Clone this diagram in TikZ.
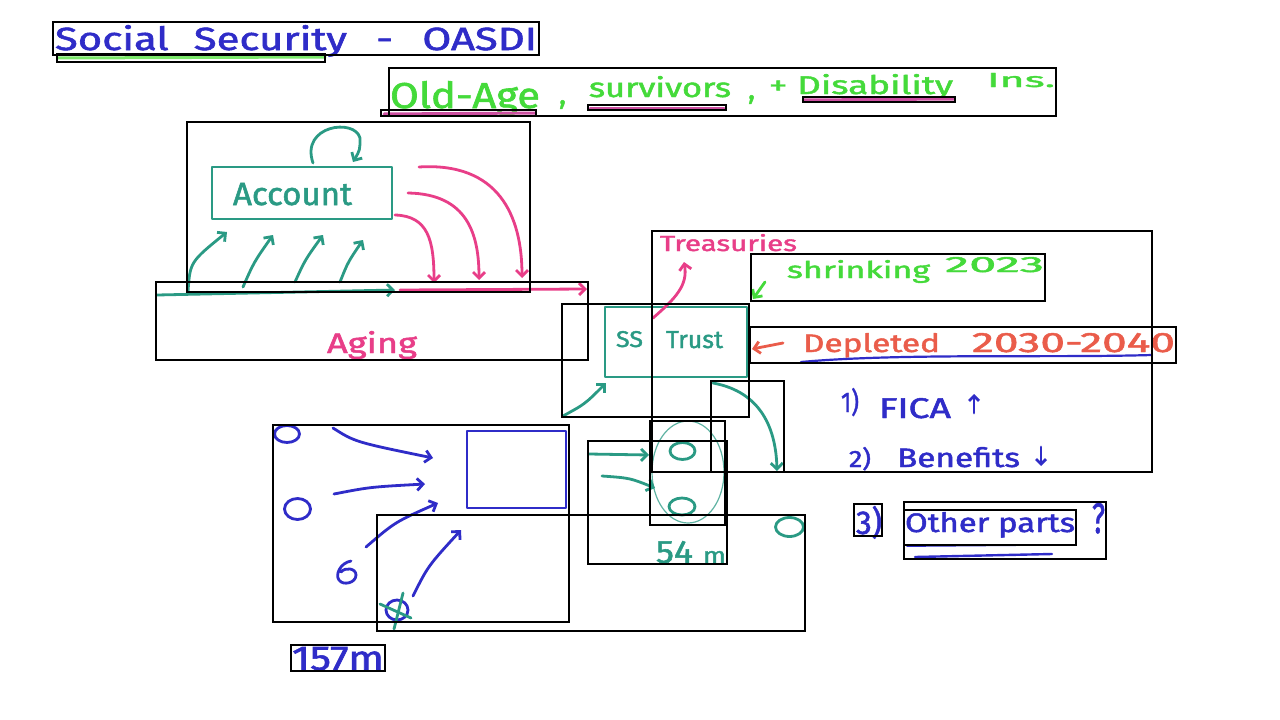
\documentclass[tikz,border=0pt]{standalone}
\usepackage{graphicx}
\usepackage{fontspec}
\setmainfont{Fira Sans}[FakeBold=1.6]
\usetikzlibrary{arrows.meta,shapes.geometric,calc}
\definecolor{hblue}{HTML}{2F2CC8}
\definecolor{hteal}{HTML}{2A9A84}
\definecolor{hgreen}{HTML}{44DA3A}
\definecolor{hpink}{HTML}{E83E88}
\definecolor{hred}{HTML}{EA5C4A}
\definecolor{hmauve}{HTML}{CC4FA0}
\definecolor{hlgreen}{HTML}{7BE86A}
\newcommand{\fitt}[3]{\resizebox{#1pt}{#2pt}{#3}}
\tikzset{
  frame/.style={draw=black,line width=1.1pt},
  pen/.style={line width=2.8pt,line cap=round,line join=round},
  tip/.style={-{Straight Barb[length=6pt,width=12pt]}},
  smalltip/.style={-{Straight Barb[length=5pt,width=10pt]}},
  lbl/.style={inner sep=0pt,outer sep=0pt,anchor=base west},
  person/.style={shape=ellipse,draw,pen,inner sep=0pt},
  boxnode/.style={draw,pen,inner sep=0pt},
}
\begin{document}
\begin{tikzpicture}[x=1pt,y=-1pt]
\fill[white] (0,0) rectangle (1280,720);
\useasboundingbox (0,0) rectangle (1280,720);

% ---------- titles ----------
\node[lbl,text=hblue] (title) at (55,50) {\fitt{482}{25}{Social\hspace{0.6em}Security\hspace{0.7em}-\hspace{0.7em}OASDI}};
\draw[hlgreen,line width=3pt,line cap=round] (58,58) -- (325,57);

\node[lbl,text=hgreen] (oldage) at (390,108) {\fitt{150}{27}{Old-Age}};
\node[lbl,text=hgreen,font=\fontsize{30}{30}\selectfont] (c1) at (559,104) {,};
\node[lbl,text=hgreen] (surv) at (589,97) {\fitt{142}{21}{survivors}};
\node[lbl,text=hgreen,font=\fontsize{30}{30}\selectfont] (c2) at (748,99) {,};
\node[lbl,text=hgreen] (disab) at (769,94) {\fitt{184}{20}{+ Disability}};
\node[lbl,text=hgreen] (ins) at (987,87) {\fitt{68}{14}{Ins.}};
\draw[hmauve,line width=3pt,line cap=round] (384,114) -- (535,113);
\draw[hmauve,line width=3pt,line cap=round] (590,108) -- (724,108);
\draw[hmauve,line width=3pt,line cap=round] (804,100) -- (954,99);

% ---------- account / aging ----------
\node[boxnode,draw=hteal,minimum width=180pt,minimum height=52pt] (acct) at (302,193) {};
\node[lbl,text=hteal] (acctlbl) at (233,205) {\fitt{119}{22}{Account}};
\draw[hteal,pen,tip] (313,163) .. controls (300,125) and (355,118) .. (360,138) .. controls (360,150) .. (353,162);

\coordinate (agstart) at (157,295);
\coordinate (agmid) at (395,290);
\coordinate (agend) at (587,289);
\draw[hteal,pen,tip] (agstart) -- (agmid);
\draw[hpink,pen,tip] ($(agmid)+(5,0)$) -- (agend);

\coordinate (u1s) at (188,292); \coordinate (u1e) at (227,232);
\coordinate (u2s) at (243,287); \coordinate (u2e) at (273,235);
\coordinate (u3s) at (295,282); \coordinate (u3e) at (323,235);
\coordinate (u4s) at (340,282); \coordinate (u4e) at (363,240);
\draw[hteal,pen,tip] (u1s) .. controls (190,262) .. (u1e);
\draw[hteal,pen,tip] (u2s) .. controls (254,262) .. (u2e);
\draw[hteal,pen,tip] (u3s) .. controls (305,260) .. (u3e);
\draw[hteal,pen,tip] (u4s) .. controls (348,262) .. (u4e);

\coordinate (p1e) at (434,283);
\coordinate (p2e) at (479,280);
\coordinate (p3e) at (522,278);
\draw[hpink,pen,tip] (395,215) .. controls (428,216) and (434,240) .. (p1e);
\draw[hpink,pen,tip] (408,193) .. controls (468,194) and (479,235) .. (p2e);
\draw[hpink,pen,tip] (419,167) .. controls (498,162) and (522,215) .. (p3e);

\node[lbl,text=hpink] (aging) at (327,353) {\fitt{90}{22}{Aging}};

% ---------- trust ----------
\node[boxnode,draw=hteal,minimum width=142pt,minimum height=70pt] (trust) at (676,342) {};
\node[lbl,text=hteal] (ss) at (616,347) {\fitt{27}{16}{SS}};
\node[lbl,text=hteal] (trustlbl) at (666,348) {\fitt{57}{17}{Trust}};
\node[lbl,text=hpink] (treas) at (660,251) {\fitt{137}{17}{Treasuries}};
\draw[hpink,pen,tip] (653,318) .. controls (676,298) and (688,285) .. (684,262);
\coordinate (tin) at (563,416);
\draw[hteal,pen,tip] (tin) .. controls (585,404) .. (606,383);

\node[lbl,text=hgreen] (shrink) at (787,278) {\fitt{143}{18}{shrinking}};
\node[lbl,text=hgreen] (y2023) at (945,272) {\fitt{99}{15}{2023}};
\draw[hgreen,pen,tip] (765,282) -- (753,299);

\node[lbl,text=hred] (depl) at (803,352) {\fitt{137}{19}{Depleted}};
\node[lbl,text=hred] (years) at (972,352) {\fitt{203}{19}{2030-2040}};
\draw[hred,pen,tip] (783,343) -- (752,349);
\draw[hblue,line width=2.2pt,line cap=round] (801,362) .. controls (900,353) and (1050,358) .. (1152,355);

\node[lbl,text=hblue] (n1) at (841,412) {\fitt{18}{24}{1)}};
\node[lbl,text=hblue] (fica) at (879,418) {\fitt{72}{20}{FICA}};
\coordinate (upb) at (974,413); \coordinate (upt) at (974,394);
\draw[hblue,pen,smalltip] (upb) -- (upt);
\node[lbl,text=hblue] (n2) at (849,467) {\fitt{22}{20}{2)}};
\node[lbl,text=hblue] (benef) at (897,467) {\fitt{123}{20}{Benefits}};
\coordinate (dnt) at (1041,447); \coordinate (dnb) at (1041,466);
\draw[hblue,pen,smalltip] (dnt) -- (dnb);

\node[lbl,text=hblue] (n3) at (856,534) {\fitt{26}{28}{3)}};
\node[lbl,text=hblue] (other) at (905,532) {\fitt{170}{20}{Other parts}};
\node[lbl,text=hblue] (quest) at (1092,533) {\fitt{13}{30}{?}};
\draw[hblue,line width=1.8pt,line cap=round] (907,546) -- (1027,545);
\draw[hblue,line width=2.4pt,line cap=round] (915,557) -- (1052,554);

% ---------- trust down arrow ----------
\coordinate (tdown) at (777,471);
\draw[hteal,pen,tip] (713,383) .. controls (762,392) and (776,430) .. (tdown);

% ---------- people ----------
\node[person,draw=hblue,minimum width=25pt,minimum height=17pt] (o1) at (287,434) {};
\node[person,draw=hblue,minimum width=26pt,minimum height=21pt] (o2) at (297.5,509) {};
\draw[hblue,pen] (351,561) .. controls (340,563) and (335,575) .. (339,580) .. controls (343,586) and (356,583) .. (356,575) .. controls (356,568) and (345,567) .. (341,572);
\coordinate (o3) at (346,572);
\node[person,draw=hblue,minimum width=22pt,minimum height=20pt] (o4) at (397,610) {};
\draw[hteal,pen] (380,604) -- (411,618);
\draw[hteal,pen] (403,593) -- (394,629);

\node[boxnode,draw=hblue,minimum width=99pt,minimum height=77pt] (sq) at (516.5,469.5) {};
\draw[hblue,pen,tip] (333,428) .. controls (355,442) .. (433,458);
\draw[hblue,pen,tip] (334,494) .. controls (370,487) .. (425,484);
\draw[hblue,pen,tip] (366,547) .. controls (395,522) .. (438,503);
\draw[hblue,pen,tip] (413,596) .. controls (428,566) .. (461,530);

\node[shape=ellipse,draw=hteal!75,line width=1.2pt,minimum width=72pt,minimum height=102pt,inner sep=0pt] (grp) at (688,472) {};
\node[person,draw=hteal,minimum width=25pt,minimum height=17pt] (o5) at (682.5,451) {};
\node[person,draw=hteal,minimum width=26pt,minimum height=17pt] (o6) at (682,506.5) {};
\node[person,draw=hteal,minimum width=28pt,minimum height=19pt] (o7) at (789.5,527) {};
\draw[hteal,pen,tip] (589,454) -- (649,455);
\draw[hteal,pen,tip] (602,476) .. controls (630,478) .. (655,488);

\node[lbl,text=hteal] (m54) at (656,563) {\fitt{37}{22}{54}};
\node[lbl,text=hteal] (m54u) at (703,563) {\fitt{23}{12}{m}};
\node[lbl,text=hblue] (m157) at (292,670) {\fitt{92}{23}{157m}};

% ---------- frames ----------
\draw[frame] (53,22) rectangle (539,55);
\draw[frame] (57,54) rectangle (325,62);
\draw[frame] (389,68) rectangle (1056,116);
\draw[frame] (381,110) rectangle (536,116);
\draw[frame] (588,105) rectangle (726,110);
\draw[frame] (803,97) rectangle (955,102);
\draw[frame] (187,122) rectangle (530,292);
\draw[frame] (156,282) rectangle (588,360);
\draw[frame] (562,304) rectangle (749,417);
\draw[frame] (652,231) rectangle (1152,472);
\draw[frame] (751,254) rectangle (1045,301);
\draw[frame] (750,327) rectangle (1176,363);
\draw[frame] (711,381) rectangle (784,472);
\draw[frame] (273,425) rectangle (569,622);
\draw[frame] (377,515) rectangle (805,631);
\draw[frame] (588,441) rectangle (727,564);
\draw[frame] (650,421) rectangle (725,525);
\draw[frame] (291,645) rectangle (385,671);
\draw[frame] (854,504) rectangle (882,536);
\draw[frame] (904,502) rectangle (1106,559);
\draw[frame] (904,510) rectangle (1076,545);
\end{tikzpicture}
\end{document}
